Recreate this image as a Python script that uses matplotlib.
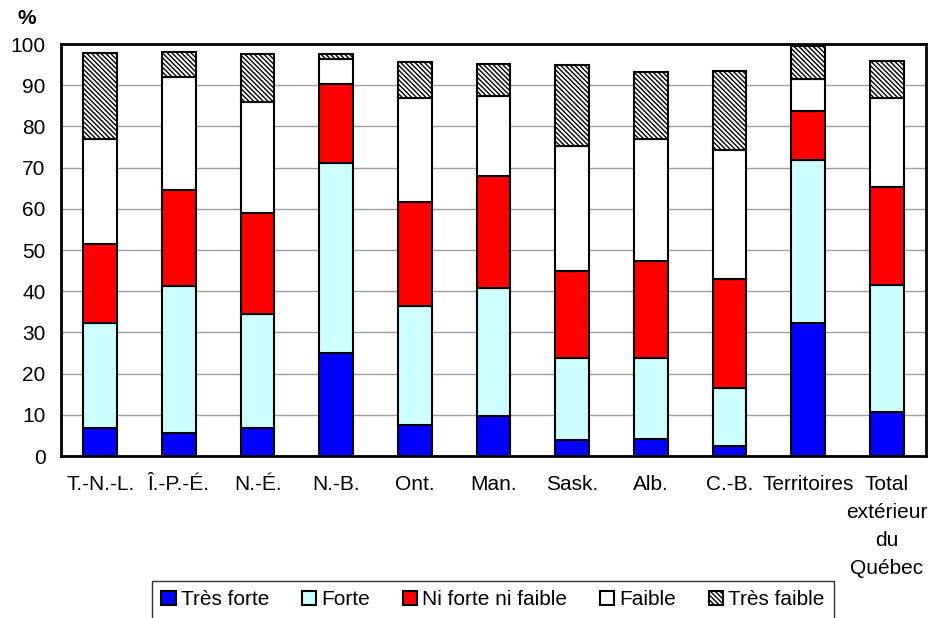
import numpy as np
import matplotlib
matplotlib.use("Agg")
import matplotlib.pyplot as plt

plt.rcParams['font.family'] = ['Liberation Sans', 'DejaVu Sans']
plt.rcParams['hatch.color'] = '#444444'
plt.rcParams['hatch.linewidth'] = 1.0

regions = ["T.-N.-L.", "Î.-P.-É.", "N.-É.", "N.-B.", "Ont.", "Man.", "Sask.",
           "Alb.", "C.-B.", "Territoires", "Total\nextérieur\ndu\nQuébec"]

tres_forte = [6.9, 5.5, 6.7, 25.1, 7.5, 9.6, 3.8, 4.1, 2.4, 32.4, 10.7]
forte = [25.3, 35.8, 27.8, 46.0, 28.9, 31.2, 20.1, 19.8, 14.0, 39.4, 30.7]
ni_forte_ni_faible = [19.3, 23.3, 24.5, 19.1, 25.2, 27.1, 20.9, 23.5, 26.6, 11.9, 23.9]
faible = [25.5, 27.5, 27.0, 6.2, 25.2, 19.4, 30.5, 29.6, 31.2, 7.9, 21.7]
tres_faible = [20.9, 6.0, 11.5, 1.1, 8.9, 7.8, 19.5, 16.3, 19.3, 7.8, 8.9]

series = [
    ("Très forte", tres_forte, "#0000ff", None),
    ("Forte", forte, "#ccffff", None),
    ("Ni forte ni faible", ni_forte_ni_faible, "#ff0000", None),
    ("Faible", faible, "#ffffff", None),
    ("Très faible", tres_faible, "#ffffff", "\\" * 7),
]

FS = 15

fig = plt.figure(figsize=(9.33, 6.18), dpi=100)
ax = fig.add_axes([61 / 933, 1 - 456 / 618, (926 - 61) / 933, (456 - 44) / 618])

x = np.arange(len(regions))
bottom = np.zeros(len(regions))
for name, vals, color, hatch in series:
    vals = np.array(vals)
    ax.bar(x, vals, 0.43, bottom=bottom, color=color, edgecolor="black",
           linewidth=1.5, hatch=hatch, label=name, zorder=3)
    bottom += vals

ax.set_xlim(-0.5, len(regions) - 0.5)
ax.set_ylim(0, 100)
ax.set_yticks(range(0, 101, 10))
ax.set_xticks(x)
ax.set_xticklabels(regions, fontsize=FS, linespacing=1.6, va="top")
ax.tick_params(axis="both", length=0, labelsize=FS)
ax.tick_params(axis="x", pad=14)
ax.tick_params(axis="y", pad=11)
ax.yaxis.grid(True, color="#a0a0a0", linewidth=1, zorder=0)
for s in ax.spines.values():
    s.set_linewidth(2)
    s.set_zorder(4)

fig.text(18 / 933, 1 - 18 / 618, "%", fontsize=FS, fontweight="bold",
         ha="left", va="center")

leg = fig.legend(loc="upper center", bbox_to_anchor=(493 / 933, 1 - 581 / 618),
                 ncol=5, fontsize=FS, frameon=True, fancybox=False,
                 edgecolor="black", handlelength=0.7, handleheight=0.7,
                 handletextpad=0.25, columnspacing=1.55, borderpad=0.45,
                 borderaxespad=0)
leg.get_frame().set_linewidth(1)

fig.savefig("out.png", dpi=100)
